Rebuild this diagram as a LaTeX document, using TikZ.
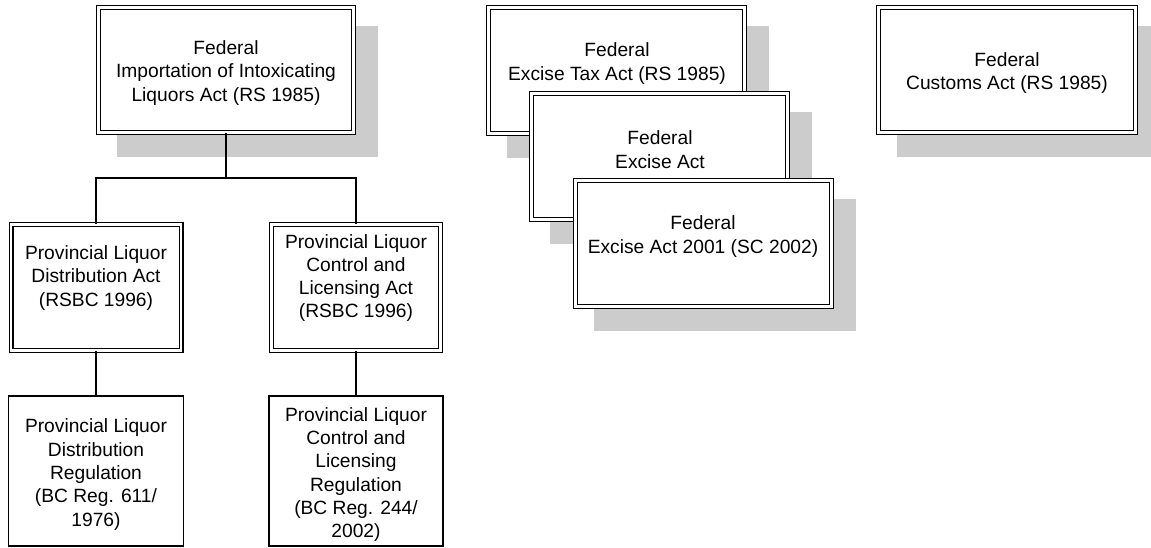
\documentclass[tikz,border=0pt]{standalone}
\usepackage{fontspec}
\setmainfont{Liberation Sans}
\definecolor{shadowgray}{RGB}{204,204,204}
\begin{document}
\begin{tikzpicture}[x=1pt,y=-1pt,
  dbox/.style={draw=black, double=white, line width=1.4pt, double distance=2.2pt, fill=white, inner sep=0pt, shape=rectangle},
  sbox/.style={draw=black, line width=1.5pt, fill=white, inner sep=0pt, shape=rectangle},
  lbl/.style={align=center, inner sep=0pt, font=\fontsize{19.2}{23.3}\selectfont},
  conn/.style={draw=black, line width=1.5pt},
  shad/.style={fill=shadowgray}]
\useasboundingbox (0,0) rectangle (1151,547);
\clip (0,0) rectangle (1151,547);

% shadows
\fill[shad] (117,26) rectangle (378,157);
\fill[shad] (507,26) rectangle (769,158);
\fill[shad] (550,112) rectangle (812,244);
\fill[shad] (594,199) rectangle (856,331);
\fill[shad] (897,26) rectangle (1160,157);

% boxes
\node[dbox, minimum width=255pt, minimum height=125pt] (A) at (226,70) {};
\node[dbox, minimum width=170pt, minimum height=126pt] (B) at (96,287.5) {};
\node[dbox, minimum width=169pt, minimum height=126pt] (C) at (356,287.5) {};
\node[sbox, minimum width=175pt, minimum height=150pt] (D) at (96,471) {};
\node[sbox, minimum width=174pt, minimum height=150pt] (E) at (356,471) {};
\node[dbox, minimum width=256pt, minimum height=126pt] (F) at (616.5,70.5) {};
\node[dbox, minimum width=256pt, minimum height=126pt] (G) at (659.5,156.5) {};
\node[dbox, minimum width=256pt, minimum height=126pt] (H) at (703.5,243.5) {};
\node[dbox, minimum width=257pt, minimum height=125pt] (I) at (1007,70) {};

% texts
\node[lbl] (tA) at (226,73) {Federal\\Importation of Intoxicating\\Liquors Act (RS 1985)};
\node[lbl] (tB) at (96,278) {Provincial Liquor\\Distribution Act\\(RSBC 1996)};
\node[lbl] (tC) at (356,278) {Provincial Liquor\\Control and\\Licensing Act\\(RSBC 1996)};
\node[lbl] (tD) at (96,474.5) {Provincial Liquor\\Distribution\\Regulation\\(BC Reg. 611/\\1976)};
\node[lbl] (tE) at (356,474.5) {Provincial Liquor\\Control and\\Licensing\\Regulation\\(BC Reg. 244/\\2002)};
\node[lbl] (tF) at (617,63.5) {Federal\\Excise Tax Act (RS 1985)};
\node[lbl] (tG) at (660,149.5) {Federal\\Excise Act};
\node[lbl] (tH) at (703,236.5) {Federal\\Excise Act 2001 (SC 2002)};
\node[lbl] (tI) at (1007,73) {Federal\\Customs Act (RS 1985)};

% connectors
\coordinate (j) at (226,178);
\draw[conn] (A.south) -- (j);
\draw[conn] (B.north) |- (j) -| (C.north);
\draw[conn] (B.south) -- (D.north);
\draw[conn] (C.south) -- (E.north);
\end{tikzpicture}
\end{document}
